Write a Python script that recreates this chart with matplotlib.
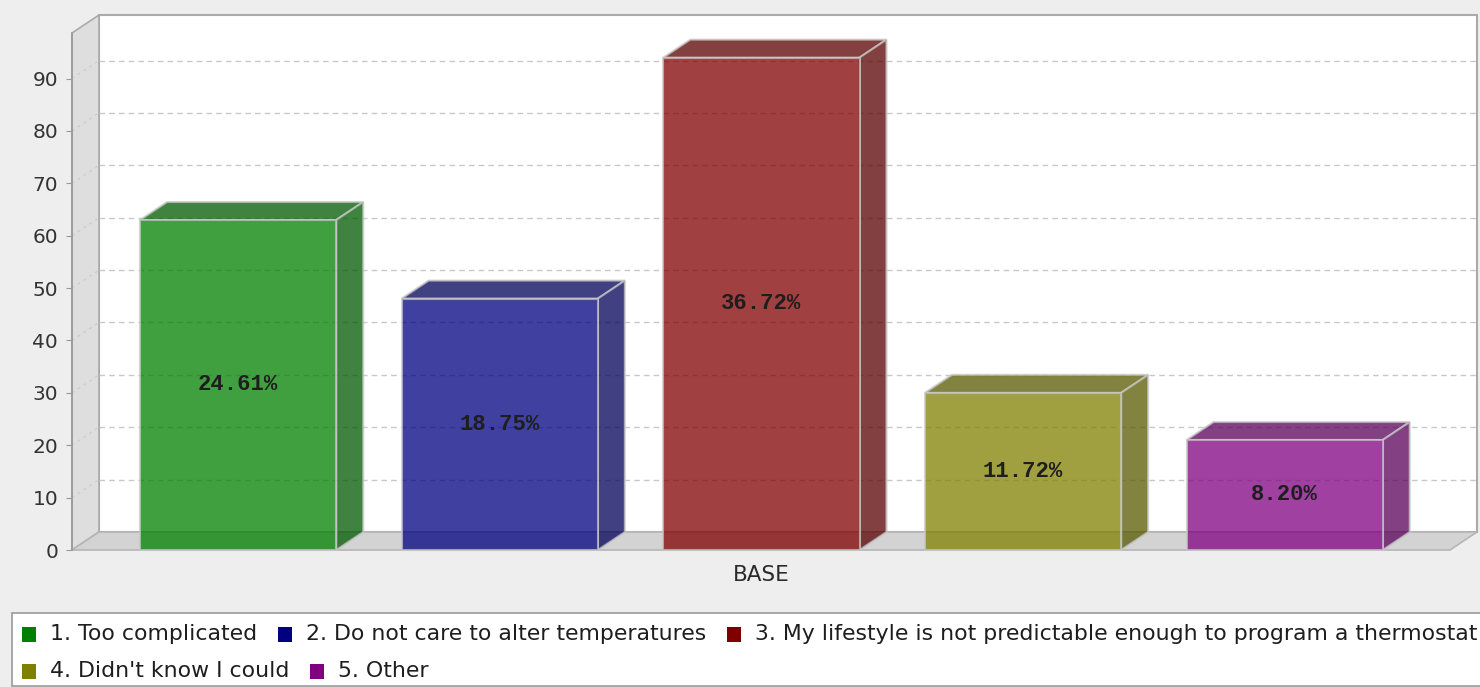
import numpy as np
import matplotlib
matplotlib.use('Agg')
import matplotlib.pyplot as plt
from matplotlib.patches import Polygon, Rectangle
from matplotlib.colors import to_rgb

categories = ['1. Too complicated',
              '2. Do not care to alter temperatures',
              '3. My lifestyle is not predictable enough to program a thermostat',
              "4. Didn't know I could",
              '5. Other']
counts = [63, 48, 94, 30, 21]
percent_labels = ['24.61%', '18.75%', '36.72%', '11.72%', '8.20%']
group_label = 'BASE'
y_ticks = list(range(0, 100, 10))

colors = ['#008000', '#000080', '#800000', '#808000', '#800080']

W, H = 1480, 687
fig = plt.figure(figsize=(W / 100, H / 100), dpi=100, facecolor='#EEEEEE')


def fx(px):
    return px / W


def fy(py):
    return 1 - py / H


# front plane of the 3D plot (pixels)
left, right, top, bottom = 72, 1450, 33, 550
ax = fig.add_axes([fx(left), fy(bottom), (right - left) / W, (bottom - top) / H])
xmin, xmax = -0.635, 4.632
ymax = 98.7
ax.set_xlim(xmin, xmax)
ax.set_ylim(0, ymax)
ax.patch.set_visible(False)

# depth offset of the 3D effect, converted to data units
dx = 27 * (xmax - xmin) / (right - left)
dy = 18 * ymax / (bottom - top)

# back wall, left wall and floor
ax.add_patch(Rectangle((xmin + dx, dy), xmax - xmin, ymax, facecolor='white',
                       edgecolor='#AAAAAA', lw=1.5, clip_on=False, zorder=0))
ax.add_patch(Polygon([(xmin, 0), (xmin, ymax), (xmin + dx, ymax + dy), (xmin + dx, dy)],
                     facecolor='#DEDEDE', edgecolor='#AAAAAA', lw=1.2, clip_on=False, zorder=0.5))
ax.add_patch(Polygon([(xmin, 0), (xmax, 0), (xmax + dx, dy), (xmin + dx, dy)],
                     facecolor='#D3D3D3', edgecolor='#B5B5B5', lw=1.2, clip_on=False, zorder=0.5))

for v in y_ticks[1:]:
    ax.plot([xmin + dx, xmax + dx], [v + dy, v + dy], color='#C8C8C8', lw=1,
            ls=(0, (4, 3)), clip_on=False, zorder=1)
    ax.plot([xmin, xmin + dx], [v, v + dy], color='#CCCCCC', lw=1,
            ls=(0, (2, 3)), clip_on=False, zorder=1)

# bars: front faces via ax.bar, top and side faces as polygons
width = 0.75
x = np.arange(len(counts))
edge = '#C8C8C8'
ax.bar(x, counts, width, color=colors, alpha=0.75, edgecolor=edge,
       linewidth=1.5, zorder=3, clip_on=False)
for xi, val, c in zip(x, counts, colors):
    dark = tuple(0.7 * ch for ch in to_rgb(c))
    x0, x1 = xi - width / 2, xi + width / 2
    ax.add_patch(Polygon([(x0, val), (x1, val), (x1 + dx, val + dy), (x0 + dx, val + dy)],
                         facecolor=dark, alpha=0.75, edgecolor=edge, lw=1.5,
                         clip_on=False, zorder=2.5))
    ax.add_patch(Polygon([(x1, 0), (x1 + dx, dy), (x1 + dx, val + dy), (x1, val)],
                         facecolor=dark, alpha=0.75, edgecolor=edge, lw=1.5,
                         clip_on=False, zorder=2.5))

for xi, val, lab in zip(x, counts, percent_labels):
    ax.text(xi, val / 2, lab, ha='center', va='center', family='Liberation Mono',
            weight='bold', size=16, color='#1E1E1E', zorder=4)

for s in ['top', 'right', 'bottom']:
    ax.spines[s].set_visible(False)
ax.spines['left'].set_color('#999999')
ax.spines['left'].set_linewidth(1.2)
ax.set_yticks(y_ticks)
ax.tick_params(axis='y', direction='out', length=4, color='#999999',
               labelcolor='#333333', labelsize=14.5, pad=6)
ax.set_xticks([(xmin + xmax) / 2], [group_label])
ax.tick_params(axis='x', length=0, labelcolor='#2A2A2A', labelsize=15.5, pad=11)

# legend box with items flowing left to right
fig.add_artist(Rectangle((fx(12), fy(686)), (W - 12 + 5) / W, (686 - 613) / H,
                         transform=fig.transFigure, facecolor='white',
                         edgecolor='#999999', lw=1.2))
renderer = fig.canvas.get_renderer()
rows = [[0, 1, 2], [3, 4]]
row_y = [634, 671]
for row, yc in zip(rows, row_y):
    px = 22
    for i in row:
        fig.add_artist(Rectangle((fx(px), fy(yc + 8)), 14 / W, 15 / H,
                                 transform=fig.transFigure, facecolor=colors[i],
                                 edgecolor='none'))
        t = fig.text(fx(px + 28), fy(yc), categories[i], ha='left', va='center',
                     size=15.8, color='#1E1E1E')
        bb = t.get_window_extent(renderer)
        px = bb.x1 + 21

fig.savefig('out.png', dpi=100, facecolor=fig.get_facecolor())
